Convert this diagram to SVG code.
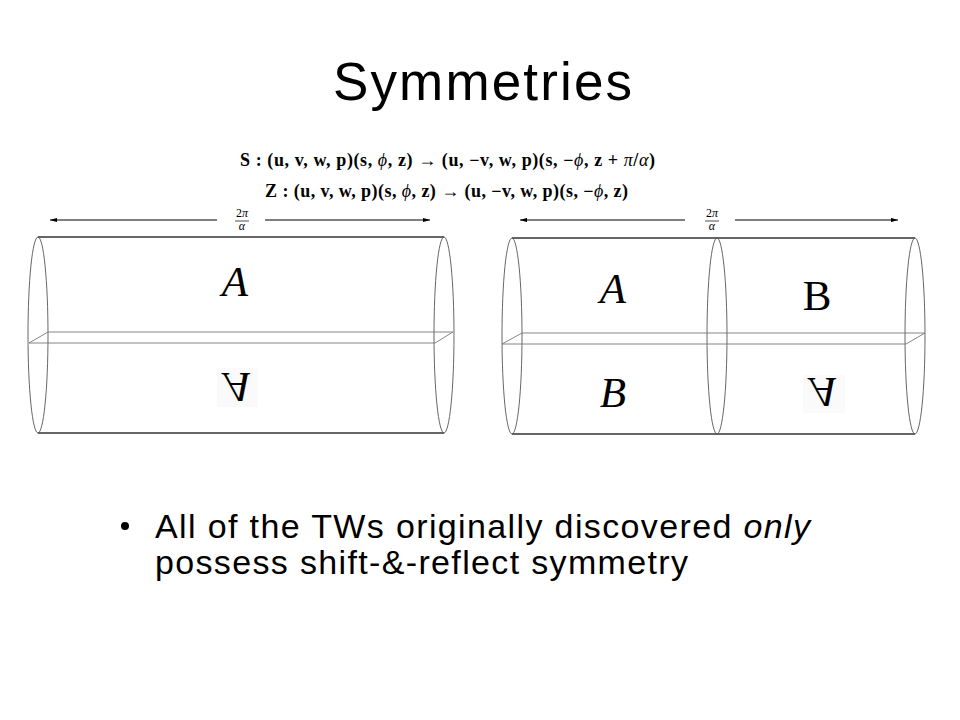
<svg xmlns="http://www.w3.org/2000/svg" width="960" height="720" viewBox="0 0 960 720">
<defs>
<marker id="ah" viewBox="0 0 10 6" refX="10" refY="3" markerWidth="7" markerHeight="4.2" orient="auto" markerUnits="userSpaceOnUse">
<path d="M0,0 L10,3 L0,6 Z" fill="#000"/>
</marker>
</defs>
<style>
.title{font-family:"Liberation Sans",Arial,sans-serif;font-size:53px;fill:#000}
.body{font-family:"Liberation Sans",Arial,sans-serif;font-size:34px;fill:#000}
.eq{font-family:"Liberation Serif","Times New Roman",serif;font-size:18px;font-weight:bold;fill:#000}
.it{font-style:italic;font-weight:normal}
.frac{font-family:"Liberation Serif","Times New Roman",serif;font-size:12px;fill:#000;text-anchor:middle}
.big{font-family:"Liberation Serif","Times New Roman",serif;font-size:43px;fill:#000;text-anchor:middle}
.edge{stroke:#333;stroke-width:1.6;fill:none}
.ring{stroke:#555;stroke-width:0.9;fill:none}
.plane{stroke:#777;stroke-width:0.9;fill:none}
.arr{stroke:#000;stroke-width:1;fill:none;marker-end:url(#ah)}
.bar{stroke:#000;stroke-width:0.7}
.shade{fill:#fafafa}
</style>
<rect width="960" height="720" fill="#fff"/>

<g id="title"><text class="title" x="333" y="100" textLength="299">Symmetries</text></g>

<g id="equations">
<text class="eq" x="240" y="166" textLength="415">S : (u, v, w, p)(s, <tspan class="it">ϕ</tspan>, z) → (u, −v, w, p)(s, −<tspan class="it">ϕ</tspan>, z + <tspan class="it">π</tspan>/<tspan class="it">α</tspan>)</text>
<text class="eq" x="265" y="197" textLength="363">Z : (u, v, w, p)(s, <tspan class="it">ϕ</tspan>, z) → (u, −v, w, p)(s, −<tspan class="it">ϕ</tspan>, z)</text>
</g>

<g id="connectors">
<line class="arr" x1="217" y1="220" x2="50" y2="220"/>
<line class="arr" x1="265" y1="220" x2="430" y2="220"/>
<line class="arr" x1="685" y1="220" x2="520" y2="220"/>
<line class="arr" x1="735" y1="220" x2="898" y2="220"/>
</g>

<g id="period-left">
<text class="frac" x="242" y="217">2<tspan font-style="italic">π</tspan></text>
<line class="bar" x1="235" y1="221" x2="249" y2="221"/>
<text class="frac" x="242" y="230" font-style="italic">α</text>
</g>
<g id="period-right">
<text class="frac" x="712" y="217">2<tspan font-style="italic">π</tspan></text>
<line class="bar" x1="705" y1="221" x2="719" y2="221"/>
<text class="frac" x="712" y="230" font-style="italic">α</text>
</g>

<g id="cylinder-left">
<line class="edge" x1="38" y1="237" x2="444" y2="237"/>
<line class="edge" x1="38" y1="433" x2="444" y2="433"/>
<ellipse class="ring" cx="38" cy="335" rx="10" ry="98"/>
<ellipse class="ring" cx="444" cy="335" rx="10" ry="98"/>
<polyline class="plane" points="29,343 48,332 453,332"/>
<polyline class="plane" points="29,343 435,343 453,332"/>
<text class="big" x="235" y="296" font-style="italic">A</text>
<rect class="shade" x="217" y="368" width="41" height="39"/>
<text class="big" font-style="italic" transform="translate(237,373) scale(1,-1)" x="0" y="0">A</text>
</g>

<g id="cylinder-right">
<line class="edge" x1="512" y1="238" x2="915" y2="238"/>
<line class="edge" x1="512" y1="434" x2="915" y2="434"/>
<ellipse class="ring" cx="512" cy="336" rx="10" ry="98"/>
<ellipse class="ring" cx="717" cy="336" rx="10" ry="98"/>
<ellipse class="ring" cx="915" cy="336" rx="10" ry="98"/>
<polyline class="plane" points="502,344 522,333 925,333"/>
<polyline class="plane" points="502,344 906,344 925,333"/>
<text class="big" x="613" y="303" font-style="italic">A</text>
<text class="big" x="817" y="310">B</text>
<text class="big" x="613" y="407" font-style="italic">B</text>
<rect class="shade" x="803" y="375" width="42" height="38"/>
<text class="big" font-style="italic" transform="translate(823,378) scale(1,-1)" x="0" y="0">A</text>
</g>

<g id="bullets">
<circle cx="125" cy="526" r="4" fill="#000"/>
<text class="body" x="155" y="538" textLength="655">All of the TWs originally discovered <tspan font-style="italic">only</tspan></text>
<text class="body" x="155" y="574" textLength="533">possess shift-&amp;-reflect symmetry</text>
</g>
</svg>
